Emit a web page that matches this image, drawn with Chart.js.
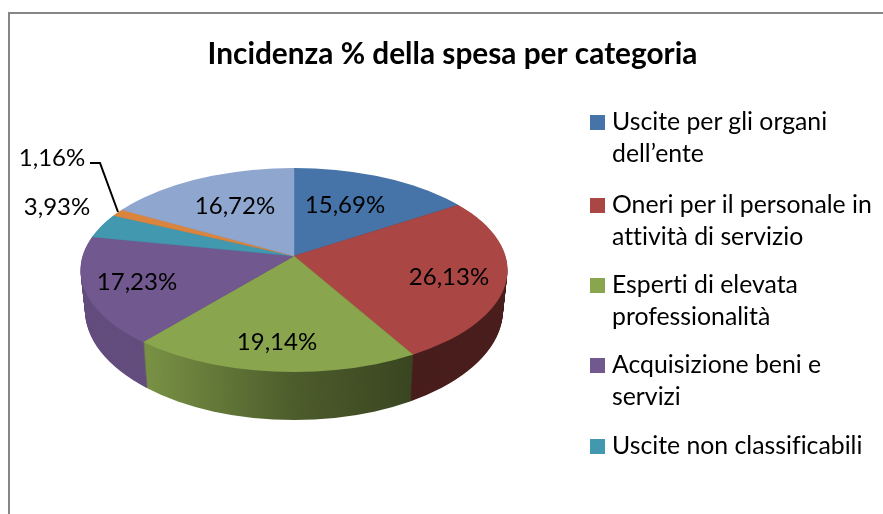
<!DOCTYPE html>
<html>
<head>
<meta charset="utf-8">
<script src="https://cdn.jsdelivr.net/npm/chart.js@4"></script>
<style>
  html, body { margin: 0; padding: 0; background: #fff; overflow: hidden; }
  #wrap { position: relative; width: 883px; height: 514px; overflow: hidden; }
  #frame { position: absolute; left: 8px; top: 12px; width: 900px; height: 540px; border: 2px solid #868686; }
  #elc { position: absolute; left: 0; top: 0; }
  #legend { position: absolute; left: 590px; top: 105px; width: 293px; font: 400 24.8px/32px Lato, sans-serif; font-variant-ligatures: none; color: #000; }
  .item { position: absolute; left: 22px; white-space: pre; }
  .item i { position: absolute; left: -22px; top: 10px; width: 15px; height: 15px; }
</style>
</head>
<body>
<div id="wrap">
  <div id="frame"></div>
  <canvas id="elc" width="883" height="514"></canvas>
  <div id="legend"></div>
</div>
<script>
var titleText = 'Incidenza % della spesa per categoria';
var values = [15.69, 26.13, 19.14, 17.23, 3.93, 1.16, 16.72];
var colors = ['#4674A8', '#AA4643', '#89A54E', '#71588F', '#4198AF', '#DB843D', '#8FA7CF'];
var legendLabels = [
  ['Uscite per gli organi', 'dell\u2019ente'],
  ['Oneri per il personale in', 'attività di servizio'],
  ['Esperti di elevata', 'professionalità'],
  ['Acquisizione beni e', 'servizi'],
  ['Uscite non classificabili']
];
var legendTops = [0, 83, 163, 243, 324];

// posizione delle etichette (come nel grafico originale)
var labelPos = [[345, 205], [449, 277], [277, 342], [137, 282], [57, 207], [52, 158], [235, 206]];

// forma del disco: faccia superiore e base
var apex = { x: 294, y: 256 };
var squash = 0.468;
var top3d = { cx: 294, cy: 270, rx: 213.5, ry: 102 };
var bottom3d = { cx: 294, cy: 310, rx: 209, ry: 110 };
var depth = 46;

function fmt(v) { return v.toFixed(2).replace('.', ',') + '%'; }

function clipEllipse(ctx, e) {
  ctx.beginPath();
  ctx.ellipse(e.cx, e.cy, e.rx, e.ry, 0, 0, Math.PI * 2);
  ctx.clip();
}

function project(ctx, arc, ax, ay, xs) {
  var k = 262 / arc.outerRadius;
  ctx.translate(ax, ay);
  ctx.scale(k * xs, k * squash);
  ctx.translate(-arc.x, -arc.y);
}

var pie3d = {
  id: 'pie3d',
  beforeDatasetsDraw: function (chart) {
    var ctx = chart.ctx;
    var arcs = chart.getDatasetMeta(0).data;

    // pareti laterali: copie impilate dal basso verso l'alto
    for (var s = depth; s >= 1; s--) {
      var t = s / depth;
      var e = {
        cx: top3d.cx,
        cy: top3d.cy + (bottom3d.cy - top3d.cy) * t,
        rx: top3d.rx + (bottom3d.rx - top3d.rx) * t,
        ry: top3d.ry + (bottom3d.ry - top3d.ry) * t
      };
      ctx.save();
      clipEllipse(ctx, e);
      project(ctx, arcs[0], apex.x, apex.y + s, e.rx / top3d.rx);
      arcs.forEach(function (a) { a.draw(ctx); });
      ctx.restore();
    }

    // ombra delle pareti, solo dove e' gia' disegnato
    var shade = ctx.createLinearGradient(80, 0, 507, 0);
    shade.addColorStop(0, 'rgba(0,0,0,0.12)');
    shade.addColorStop(0.16, 'rgba(0,0,0,0.12)');
    shade.addColorStop(0.5, 'rgba(0,0,0,0.44)');
    shade.addColorStop(0.78, 'rgba(0,0,0,0.58)');
    shade.addColorStop(1, 'rgba(0,0,0,0.57)');
    ctx.save();
    ctx.globalCompositeOperation = 'source-atop';
    ctx.fillStyle = shade;
    ctx.fillRect(60, 150, 470, 300);
    ctx.restore();

    // faccia superiore: la disegna la libreria
    ctx.save();
    clipEllipse(ctx, top3d);
    project(ctx, arcs[0], apex.x, apex.y, 1);
  },
  afterDatasetsDraw: function (chart) {
    var ctx = chart.ctx;
    ctx.restore();

    ctx.save();
    ctx.fillStyle = '#000';
    ctx.font = '400 24px Lato, sans-serif';
    ctx.textAlign = 'center';
    ctx.textBaseline = 'middle';
    values.forEach(function (v, i) {
      ctx.fillText(fmt(v), labelPos[i][0], labelPos[i][1]);
    });
    // linea guida per 1,16%
    ctx.strokeStyle = '#000';
    ctx.lineWidth = 2;
    ctx.beginPath();
    ctx.moveTo(90, 163);
    ctx.lineTo(100, 163);
    ctx.lineTo(118, 212);
    ctx.stroke();
    ctx.restore();
  }
};

var ctx = document.getElementById('elc');
var myChart = new Chart(ctx, {
  type: 'pie',
  data: {
    labels: legendLabels.map(function (l) { return l.join(' '); }).concat(['', '']),
    datasets: [{
      data: values,
      backgroundColor: colors,
      borderColor: colors,
      borderWidth: 0.5,
      clip: false
    }]
  },
  options: {
    responsive: false,
    animation: false,
    layout: { padding: { left: 22 } },
    plugins: {
      legend: { display: false },
      tooltip: { enabled: false },
      title: {
        display: true,
        text: titleText,
        color: '#000',
        font: { family: 'Lato, sans-serif', size: 29.8, weight: 'bold' },
        padding: { top: 37, bottom: 10 }
      }
    }
  },
  plugins: [pie3d]
});

var legend = document.getElementById('legend');
legendLabels.forEach(function (lines, i) {
  var d = document.createElement('div');
  d.className = 'item';
  d.style.top = legendTops[i] + 'px';
  d.textContent = lines.join('\n');
  var sw = document.createElement('i');
  sw.style.background = colors[i];
  d.appendChild(sw);
  legend.appendChild(d);
});
</script>
</body>
</html>
